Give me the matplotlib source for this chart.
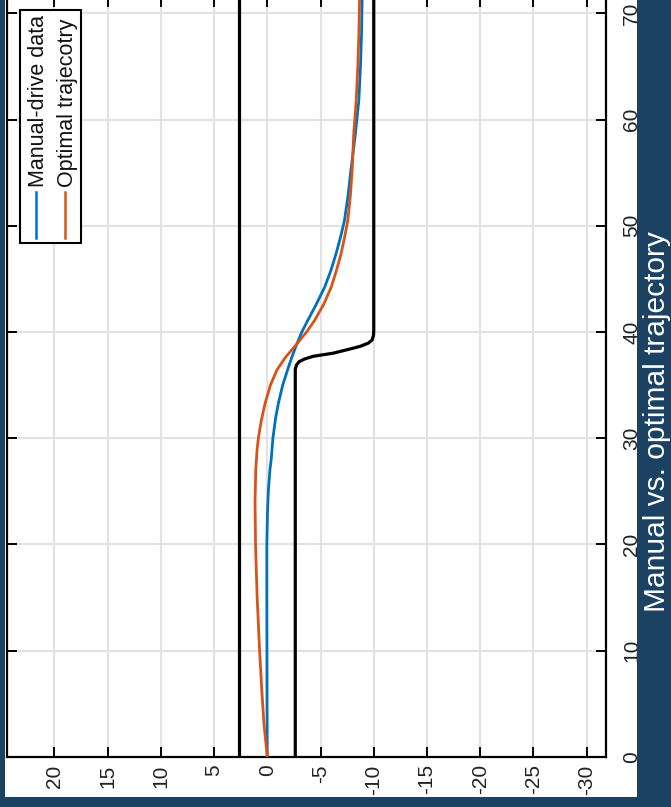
import matplotlib
matplotlib.use("Agg")
import matplotlib.pyplot as plt
from matplotlib.patches import Rectangle
from matplotlib.lines import Line2D

plt.rcParams['font.family'] = ['Liberation Sans', 'DejaVu Sans']

# ---------------- data ----------------
# station (longitudinal distance) and lateral offset
station_manual = [0, 5, 10, 15, 20, 23, 25, 27, 28, 30, 32, 33.3, 35, 36.4, 37.6, 38.8,
                  40, 41.1, 42.6, 44.2, 45.8, 47.4, 49, 50.5, 52.8, 55.2, 58.7, 61.8,
                  64.9, 68, 72]
lateral_manual = [0, 0.02, 0.03, 0.04, 0.04, -0.02, -0.1, -0.25, -0.37, -0.53, -0.8, -1.05,
                  -1.45, -1.9, -2.3, -2.75, -3.25, -3.81, -4.6, -5.38, -5.98, -6.47, -6.9,
                  -7.25, -7.58, -7.85, -8.28, -8.6, -8.75, -8.85, -8.92]

station_optimal = [0, 3, 6, 10, 15, 20, 24, 27, 29, 30.1, 31.7, 33.3, 35, 36.4, 37.6,
                   38.8, 40, 41.1, 42.6, 44.2, 45.8, 47.4, 49, 50.5, 52.8, 55.2, 58.7,
                   61.8, 64.9, 68, 72]
lateral_optimal = [0, 0.3, 0.5, 0.72, 0.95, 1.1, 1.15, 1.08, 0.95, 0.82, 0.55, 0.2,
                   -0.3, -0.9, -1.7, -2.72, -3.7, -4.45, -5.3, -6.0, -6.5, -6.94, -7.28,
                   -7.56, -7.8, -7.97, -8.12, -8.35, -8.5, -8.6, -8.68]

station_left_bound = [0, 72]
lateral_left_bound = [2.63, 2.63]

station_right_bound = [0, 36.5, 36.9, 37.2, 37.45, 37.7, 38.0, 38.35, 38.65, 38.95,
                       39.25, 39.7, 40.2, 72]
lateral_right_bound = [-2.63, -2.63, -2.75, -3.0, -3.5, -4.3, -6.2, -7.6, -8.75, -9.5,
                       -9.85, -9.98, -10.0, -10.0]

lateral_ticks = [20, 15, 10, 5, 0, -5, -10, -15, -20, -25, -30]
station_ticks = [0, 10, 20, 30, 40, 50, 60, 70]
legend_labels = ["Manual-drive data", "Optimal trajecotry"]
title_text = "Manual vs. optimal trajectory"

# ---------------- styling ----------------
W, H = 671, 807
BG = "#1b4262"
BLUE = "#0072BD"
ORANGE = "#D95319"

fig = plt.figure(figsize=(W / 100, H / 100), dpi=100, facecolor=BG)

def fx(px):
    return px / W

def fy(py):
    return (H - py) / H

# white panel
fig.patches.append(Rectangle((fx(5), fy(797)), fx(632), 797 / H, transform=fig.transFigure,
                             facecolor="white", edgecolor="none", zorder=-10))

ax = fig.add_axes([fx(7), fy(756.7), fx(605.7 - 7), (756.7 + 2.6) / H])
ax.set_facecolor("white")

ax.plot(lateral_left_bound, station_left_bound, color="black", lw=2.3, zorder=3)
ax.plot(lateral_right_bound, station_right_bound, color="black", lw=2.3, zorder=3)
ax.plot(lateral_manual, station_manual, color=BLUE, lw=2.0, zorder=4)
ax.plot(lateral_optimal, station_optimal, color=ORANGE, lw=2.0, zorder=4)

ax.set_xlim(24.44, -31.78)
ax.set_ylim(0, 71.5)
ax.set_xticks(lateral_ticks)
ax.set_xticklabels([str(v) for v in lateral_ticks])
ax.set_yticks(station_ticks)
ax.set_yticklabels([str(v) for v in station_ticks])

ax.grid(True, color="#e2e2e2", lw=1.5)
ax.set_axisbelow(True)

for s in ax.spines.values():
    s.set_linewidth(1.6)
    s.set_color("black")

ax.tick_params(axis="both", direction="in", length=7, width=1.4, color="black",
               labelsize=15, labelcolor="#222222", top=True, right=True, left=True,
               bottom=True)
ax.tick_params(axis="y", labelleft=False, labelright=True, pad=12)
ax.tick_params(axis="x", pad=5.5)
for lab in ax.get_xticklabels():
    lab.set_rotation(90)
    lab.set_va("top")
    lab.set_ha("center")
for lab in ax.get_yticklabels():
    lab.set_rotation(90)
    lab.set_va("center")
    lab.set_ha("left")

# overlay background strips (crop)
fig.patches.append(Rectangle((fx(637), 0), 1 - fx(637), 1, transform=fig.transFigure,
                             facecolor=BG, edgecolor="none", zorder=5))
fig.patches.append(Rectangle((0, 0), 1, fy(797), transform=fig.transFigure,
                             facecolor=BG, edgecolor="none", zorder=5))
fig.patches.append(Rectangle((0, 0), fx(5), 1, transform=fig.transFigure,
                             facecolor=BG, edgecolor="none", zorder=5))

# legend (rotated)
fig.patches.append(Rectangle((fx(20), fy(243)), fx(61), 233 / H, transform=fig.transFigure,
                             facecolor="white", edgecolor="black", lw=1.5, zorder=6))
for xpos, col in [(36, BLUE), (65, ORANGE)]:
    fig.lines.append(Line2D([fx(xpos), fx(xpos)], [fy(238), fy(192)],
                            transform=fig.transFigure, color=col, lw=1.8, zorder=7))
for xpos, lab in [(39, legend_labels[0]), (68, legend_labels[1])]:
    fig.text(fx(xpos), fy(187), lab, rotation=90, ha="center", va="bottom",
             fontsize=15.5, color="#111111", zorder=8)

fig.text(fx(657), fy(421.5), title_text, rotation=90, ha="center", va="center",
         fontsize=21.5, color="white", zorder=8)

fig.savefig("out.png", dpi=100, facecolor=BG)
